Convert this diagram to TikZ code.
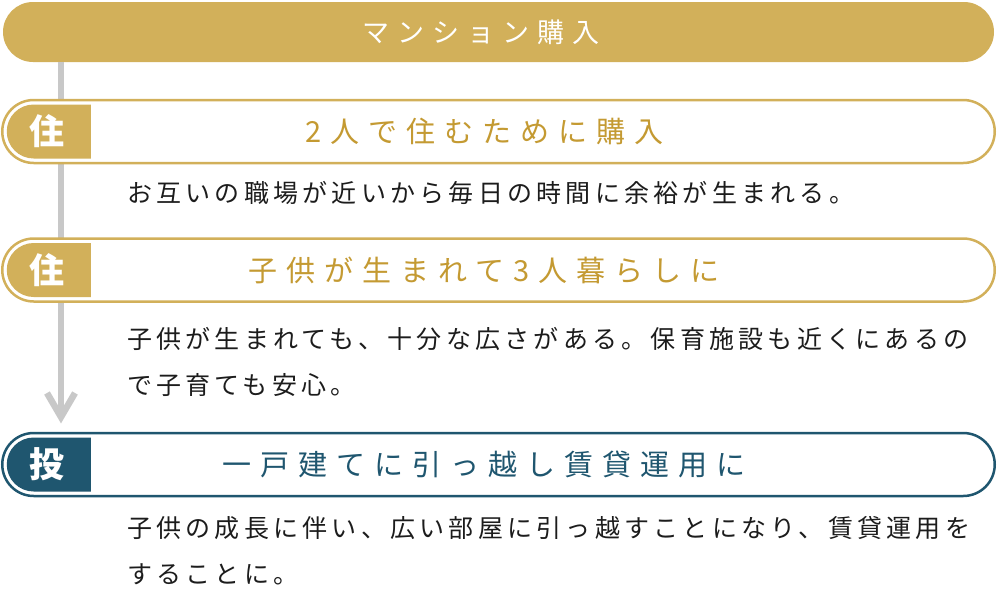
\documentclass[tikz,border=0pt]{standalone}
\usepackage{fontspec}
\newfontfamily\jpdesc[LetterSpace=17]{Noto Sans CJK JP}
\newfontfamily\jptitle[LetterSpace=31]{Noto Sans CJK JP}
\newfontfamily\jphead[LetterSpace=30]{Noto Sans CJK JP}
\newfontfamily\jpbadge{Noto Sans CJK JP}
\definecolor{mgold}{HTML}{D2B05A}
\definecolor{mgoldtext}{HTML}{C49A32}
\definecolor{mteal}{HTML}{1F566F}
\definecolor{mgrey}{HTML}{C8C8C8}
\definecolor{mink}{HTML}{1C1C1C}
\tikzset{
    headbar/.style = {fill=mgold, rounded corners=30pt, minimum width=991pt, minimum height=60pt},
    rowbox/.style = {draw=#1, line width=2.5pt, fill=white, rounded corners=31.5pt,
                     minimum width=992.5pt, minimum height=63pt},
    badge/.style = {text=white, inner sep=0pt, font=\jpbadge\bfseries\fontsize{35}{40}\selectfont},
    rowtitle/.style = {text=#1, inner sep=0pt, font=\jptitle\fontsize{29}{32}\selectfont},
    desc/.style = {anchor=base west, inner sep=0pt, text=mink, font=\jpdesc\fontsize{25}{46}\selectfont},
    stem/.style = {draw=mgrey, line width=6pt},
    chevron/.style = {draw=mgrey, line width=6.5pt, miter limit=10}
}
\begin{document}
\begin{tikzpicture}[x=1pt, y=-1pt]
    \useasboundingbox (0,0) rectangle (997,590);
    % header
    \node[headbar] (head) at (498.5,32) {};
    \node[text=white, inner sep=0pt, font=\jphead\fontsize{27}{30}\selectfont] (headtext) at (481,32) {マンション購入};
    % timeline
    \coordinate (tip) at (61,417);
    \draw[stem] (head.south -| tip) -- (tip);
    \draw[chevron] ([shift={(-14,-24)}]tip) -- (tip) -- ([shift={(14,-24)}]tip);
    % rows
    \foreach \i/\y/\c/\tc/\b/\t in {1/131.5/mgold/mgoldtext/住/2人で住むために購入,
                                    2/270/mgold/mgoldtext/住/子供が生まれて3人暮らしに,
                                    3/464.5/mteal/mteal/投/一戸建てに引っ越し賃貸運用に}{
        \node[rowbox=\c] (box\i) at (498.5,\y) {};
        \begin{scope}
            \clip[rounded corners=27pt] (6.75,\y-27) rectangle (200,\y+27);
            \fill[\c] (0,\y-40) rectangle (91,\y+40);
        \end{scope}
        \node[badge] (badge\i) at (47,\y) {\b};
        \node[rowtitle=\tc] (title\i) at (484,\y) {\t};
    }
    % descriptions
    \node[desc] (desc1) at (127,202.5) {お互いの職場が近いから毎日の時間に余裕が生まれる。};
    \node[desc] (desc2a) at (127,348.5) {子供が生まれても、十分な広さがある。保育施設も近くにあるの};
    \node[desc] (desc2b) at (127,394.5) {で子育ても安心。};
    \node[desc] (desc3a) at (127,537.5) {子供の成長に伴い、広い部屋に引っ越すことになり、賃貸運用を};
    \node[desc] (desc3b) at (127,583.5) {することに。};
\end{tikzpicture}
\end{document}
